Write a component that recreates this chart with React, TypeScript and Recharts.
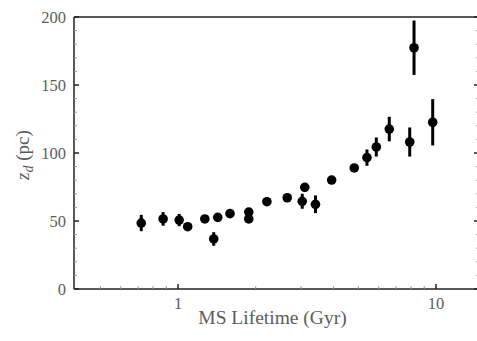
import React from "react";
import { ErrorBar, Scatter, ScatterChart, XAxis, YAxis } from "recharts";

// main-sequence lifetime (Gyr), scale height z_d (pc) and its 1-sigma error
const lifetime = [
  0.72, 0.875, 1.01, 1.09, 1.27, 1.375, 1.425, 1.59, 1.88, 1.88, 2.21, 2.65,
  3.03, 3.1, 3.41, 3.94, 4.82, 5.4, 5.87, 6.59, 7.91, 8.22, 9.71,
];
const scaleHeight = [
  48.5, 51.5, 50.7, 45.8, 51.5, 36.8, 52.7, 55.4, 56.6, 51.5, 64.2, 67.1,
  64.5, 74.8, 62.3, 80.1, 89, 96.6, 104.4, 117.6, 108.1, 177.4, 122.6,
];
const scaleHeightErr = [
  6, 5, 4.5, 2, 2, 5, 3, 2, 2, 2, 2, 2, 5.5, 3, 6.5, 2, 2.5, 6, 7, 9, 10.7, 20,
  17,
];

const xTicks = [0.5, 0.6, 0.7, 0.8, 0.9, 1, 2, 3, 4, 5, 6, 7, 8, 9, 10];
const xLabels = [1, 10];
const yTicks = [
  0, 10, 20, 30, 40, 50, 60, 70, 80, 90, 100, 110, 120, 130, 140, 150, 160,
  170, 180, 190, 200,
];
const yLabels = [0, 50, 100, 150, 200];

const data = lifetime.map((t, i) => ({
  t,
  z: scaleHeight[i],
  err: scaleHeightErr[i],
}));

const FONT = "Liberation Serif";
const TEXT = "#5c5c5c";
const AXIS = "#222";
const MARGIN = 8;

const BottomTick = (props: any) => {
  const { x, y, payload } = props;
  const axisY = y - MARGIN;
  const major = xLabels.includes(payload.value);
  return (
    <g>
      <line x1={x} x2={x} y1={axisY} y2={axisY - (major ? 5 : 3)} stroke={major ? AXIS : "#999"} strokeWidth={major ? 1.5 : 1} />
      {major && (
        <text x={x} y={y} dy="0.75em" textAnchor="middle" fill={TEXT} fontSize={16.5} fontFamily={FONT}>
          {payload.value}
        </text>
      )}
    </g>
  );
};

const TopTick = (props: any) => {
  const { x, y, payload } = props;
  const major = xLabels.includes(payload.value);
  return (
    <line x1={x} x2={x} y1={y} y2={y + (major ? 5 : 3)} stroke={major ? AXIS : "#999"} strokeWidth={major ? 1.5 : 1} />
  );
};

const LeftTick = (props: any) => {
  const { x, y, payload } = props;
  const axisX = x + MARGIN;
  const major = yLabels.includes(payload.value);
  return (
    <g>
      <line x1={axisX} x2={axisX + (major ? 5 : 3)} y1={y} y2={y} stroke={major ? AXIS : "#999"} strokeWidth={major ? 1.5 : 1} />
      {major && (
        <text x={x} y={y} dy="0.35em" textAnchor="end" fill={TEXT} fontSize={16.5} fontFamily={FONT}>
          {payload.value}
        </text>
      )}
    </g>
  );
};

const RightTick = (props: any) => {
  const { x, y, payload } = props;
  const major = yLabels.includes(payload.value);
  return (
    <line x1={x} x2={x - (major ? 5 : 3)} y1={y} y2={y} stroke={major ? AXIS : "#999"} strokeWidth={major ? 1.5 : 1} />
  );
};

const Dot = (props: any) => <circle cx={props.cx} cy={props.cy} r={4.8} fill="#000" />;

export default function App() {
  return (
    <div style={{ position: "absolute", left: 0, top: 0, width: 477, height: 341, overflow: "hidden", background: "#fff" }}>
      <ScatterChart width={490} height={341} margin={{ top: 0, right: 0, bottom: 0, left: 0 }}>
        <XAxis
          dataKey="t"
          type="number"
          scale="log"
          domain={[0.395, 14.68]}
          allowDataOverflow
          ticks={xTicks}
          interval={0}
          tickSize={0}
          tickMargin={MARGIN}
          tickLine={false}
          tick={BottomTick}
          height={52}
          axisLine={{ stroke: AXIS, strokeWidth: 1.5 }}
          label={{
            content: ({ viewBox }: any) => (
              <text x={viewBox.x + viewBox.width / 2 - 4} y={viewBox.y + 35} textAnchor="middle" fill={TEXT} fontSize={19.5} fontFamily={FONT}>
                MS Lifetime (Gyr)
              </text>
            ),
          }}
        />
        <XAxis
          xAxisId="top"
          orientation="top"
          type="number"
          scale="log"
          domain={[0.395, 14.68]}
          allowDataOverflow
          ticks={xTicks}
          interval={0}
          tickSize={0}
          tickMargin={0}
          tickLine={false}
          tick={TopTick}
          height={17}
          axisLine={{ stroke: AXIS, strokeWidth: 1.5 }}
        />
        <YAxis
          dataKey="z"
          type="number"
          domain={[0, 200]}
          allowDataOverflow
          ticks={yTicks}
          interval={0}
          tickSize={0}
          tickMargin={MARGIN}
          tickLine={false}
          tick={LeftTick}
          width={74}
          axisLine={{ stroke: AXIS, strokeWidth: 1.5 }}
          label={{
            content: ({ viewBox }: any) => {
              const cy = viewBox.y + viewBox.height / 2 + 2;
              return (
                <text x={29} y={cy} transform={`rotate(-90 29 ${cy})`} textAnchor="middle" fill={TEXT} fontSize={19} fontFamily={FONT}>
                  <tspan fontStyle="italic">z</tspan>
                  <tspan fontStyle="italic" fontSize={14} dy={4}>d</tspan>
                  <tspan dy={-4}> (pc)</tspan>
                </text>
              );
            },
          }}
        />
        <YAxis
          yAxisId="right"
          orientation="right"
          type="number"
          domain={[0, 200]}
          allowDataOverflow
          ticks={yTicks}
          interval={0}
          tickSize={0}
          tickMargin={0}
          tickLine={false}
          tick={RightTick}
          width={11}
          axisLine={{ stroke: AXIS, strokeWidth: 1.5 }}
        />
        <Scatter data={data} fill="#000" shape={Dot} isAnimationActive={false}>
          <ErrorBar dataKey="err" direction="y" width={0} strokeWidth={3} stroke="#000" isAnimationActive={false} />
        </Scatter>
      </ScatterChart>
    </div>
  );
}
